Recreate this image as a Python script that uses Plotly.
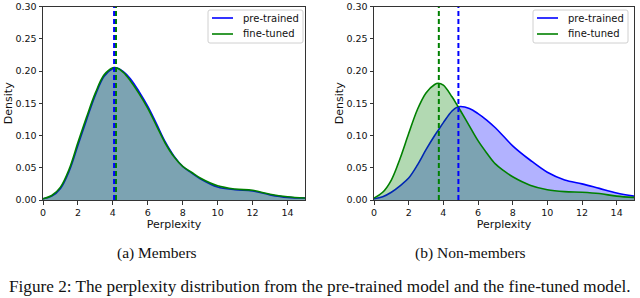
import plotly.graph_objects as go

# ---- data ----
x_mem = [0, 0.5, 1, 1.5, 2, 2.5, 3, 3.5, 4, 4.2, 4.6, 5, 5.5, 6, 6.5, 7, 7.5, 8, 8.5, 9, 10, 11, 12, 13, 14, 15]
mem_pre = [0.002, 0.006, 0.018, 0.045, 0.085, 0.125, 0.163, 0.192, 0.204, 0.205, 0.199, 0.188, 0.168, 0.145, 0.118, 0.090, 0.068, 0.052, 0.042, 0.033, 0.020, 0.016, 0.014, 0.008, 0.004, 0.003]
mem_ft = [0.002, 0.007, 0.020, 0.048, 0.089, 0.129, 0.166, 0.194, 0.205, 0.205, 0.198, 0.185, 0.165, 0.142, 0.115, 0.088, 0.067, 0.052, 0.043, 0.034, 0.022, 0.017, 0.015, 0.009, 0.005, 0.003]
mem_med_pre = 4.07
mem_med_ft = 4.18

x_non = [0, 0.5, 1, 1.5, 2, 2.5, 3, 3.5, 3.7, 4, 4.5, 4.8, 5, 5.5, 6, 6.5, 7, 7.5, 8, 9, 10, 11, 12, 13, 14, 15]
non_pre = [0.002, 0.005, 0.012, 0.022, 0.034, 0.054, 0.078, 0.100, 0.108, 0.120, 0.138, 0.144, 0.145, 0.142, 0.134, 0.124, 0.112, 0.098, 0.084, 0.062, 0.043, 0.031, 0.025, 0.018, 0.011, 0.006]
non_ft = [0.003, 0.012, 0.031, 0.064, 0.103, 0.140, 0.166, 0.179, 0.181, 0.178, 0.160, 0.147, 0.138, 0.115, 0.092, 0.073, 0.056, 0.045, 0.036, 0.023, 0.016, 0.013, 0.012, 0.010, 0.006, 0.004]
non_med_pre = 4.87
non_med_ft = 3.74

series_names = ["pre-trained", "fine-tuned"]
x_ticks = [0, 2, 4, 6, 8, 10, 12, 14]
y_ticks = [0.0, 0.05, 0.10, 0.15, 0.20, 0.25, 0.30]
captions = ["(a) Members", "(b) Non-members"]
fig_caption = "Figure 2: The perplexity distribution from the pre-trained model and the fine-tuned model."

BLUE = "#0000ff"
GREEN = "#008000"
BLUE_FILL = "rgba(0,0,255,0.3)"
GREEN_FILL = "rgba(0,128,0,0.3)"
W, H = 640, 298

def px(x):
    return x / W

def py(y):
    return 1 - y / H

fig = go.Figure()

panels = [
    (x_mem, mem_pre, mem_ft, mem_med_pre, mem_med_ft, "x", "y"),
    (x_non, non_pre, non_ft, non_med_pre, non_med_ft, "x2", "y2"),
]

for xs, pre, ft, mp, mf, xa, ya in panels:
    fig.add_trace(go.Scatter(x=xs, y=pre, mode="lines", line=dict(color=BLUE, width=1.6, shape="spline", smoothing=1.0),
                             fill="tozeroy", fillcolor=BLUE_FILL, name=series_names[0], showlegend=False, xaxis=xa, yaxis=ya))
    fig.add_trace(go.Scatter(x=xs, y=ft, mode="lines", line=dict(color=GREEN, width=1.6, shape="spline", smoothing=1.0),
                             fill="tozeroy", fillcolor=GREEN_FILL, name=series_names[1], showlegend=False, xaxis=xa, yaxis=ya))
    fig.add_trace(go.Scatter(x=[mf, mf], y=[0, 0.3], mode="lines", line=dict(color=GREEN, width=2, dash="5px,3px"),
                             showlegend=False, xaxis=xa, yaxis=ya, hoverinfo="skip"))
    fig.add_trace(go.Scatter(x=[mp, mp], y=[0, 0.3], mode="lines", line=dict(color=BLUE, width=2, dash="5px,3px"),
                             showlegend=False, xaxis=xa, yaxis=ya, hoverinfo="skip"))

axis_common = dict(showline=True, linecolor="#333", linewidth=1, mirror=True, ticks="outside", ticklen=3.5,
                   tickcolor="#333", showgrid=False, zeroline=False, automargin=False, ticklabeloverflow="allow",
                   tickfont=dict(family="DejaVu Sans", size=9.5, color="#111"))

xaxis_common = dict(axis_common, range=[0, 15], tickvals=x_ticks,
                    title=dict(text="Perplexity", font=dict(family="DejaVu Sans", size=11, color="#111"), standoff=0))
yaxis_common = dict(axis_common, range=[0, 0.3], tickvals=y_ticks, tickformat=".2f",
                    title=dict(text="Density", font=dict(family="DejaVu Sans", size=11, color="#111"), standoff=0))

TOP = 6.5
fig.update_layout(
    width=W, height=H,
    margin=dict(l=0, r=0, t=0, b=0),
    paper_bgcolor="white", plot_bgcolor="white",
    xaxis=dict(xaxis_common, domain=[px(43), px(305)], anchor="y"),
    yaxis=dict(yaxis_common, domain=[py(200), py(TOP)], anchor="x"),
    xaxis2=dict(xaxis_common, domain=[px(374), px(634)], anchor="y2"),
    yaxis2=dict(yaxis_common, domain=[py(200), py(TOP)], anchor="x2"),
    showlegend=False,
)

# legend boxes (drawn in paper space) for each panel
def rounded_rect(x0, y0, x1, y1, r=2):
    return (f"M {px(x0+r)},{py(y0)} L {px(x1-r)},{py(y0)} Q {px(x1)},{py(y0)} {px(x1)},{py(y0+r)} "
            f"L {px(x1)},{py(y1-r)} Q {px(x1)},{py(y1)} {px(x1-r)},{py(y1)} "
            f"L {px(x0+r)},{py(y1)} Q {px(x0)},{py(y1)} {px(x0)},{py(y1-r)} "
            f"L {px(x0)},{py(y0+r)} Q {px(x0)},{py(y0)} {px(x0+r)},{py(y0)} Z")

for bx0 in (208, 533):
    fig.add_shape(type="path", path=rounded_rect(bx0, 10, bx0 + 95, 43), xref="paper", yref="paper",
                  line=dict(color="#d0d0d0", width=1), fillcolor="rgba(255,255,255,0.8)", layer="above")
    for i, (name, col) in enumerate(zip(series_names, [BLUE, GREEN])):
        yy = 18 + 16 * i
        fig.add_shape(type="line", x0=px(bx0 + 4), x1=px(bx0 + 25), y0=py(yy), y1=py(yy), xref="paper", yref="paper",
                      line=dict(color=col, width=1.6), layer="above")
        fig.add_annotation(text=name, x=px(bx0 + 33), y=py(yy), xref="paper", yref="paper", showarrow=False,
                           xanchor="left", yanchor="middle",
                           font=dict(family="DejaVu Sans", size=10, color="#111"))

fig.add_annotation(text=captions[0], x=px(157), y=py(253), xref="paper", yref="paper", showarrow=False,
                   font=dict(family="Liberation Serif", size=15.5, color="#111"), xanchor="center", yanchor="middle")
fig.add_annotation(text=captions[1], x=px(470), y=py(253), xref="paper", yref="paper", showarrow=False,
                   font=dict(family="Liberation Serif", size=15.5, color="#111"), xanchor="center", yanchor="middle")
fig.add_annotation(text=fig_caption, x=px(319.5), y=py(286), xref="paper", yref="paper", showarrow=False,
                   font=dict(family="Liberation Serif", size=17.2, color="#111"), xanchor="center", yanchor="middle")

fig.write_html("out.html", config={"displayModeBar": False},
               post_script="document.body.style.margin='0';document.body.style.overflow='hidden';")
